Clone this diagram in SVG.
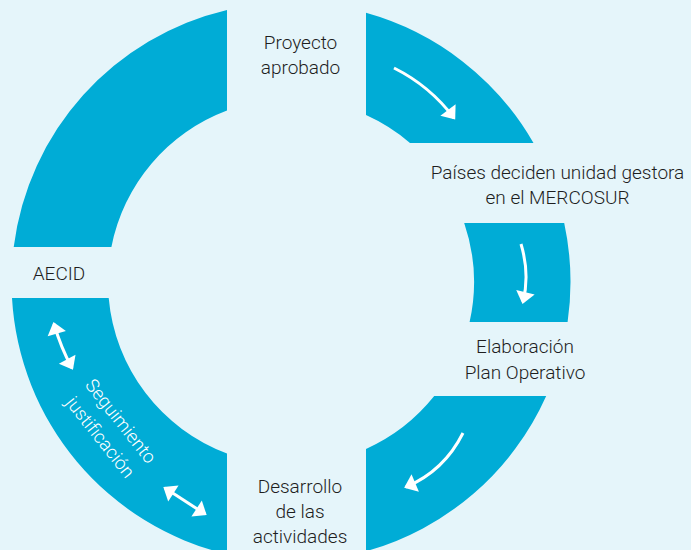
<svg xmlns="http://www.w3.org/2000/svg" width="691" height="550" viewBox="0 0 691 550">
  <style>
    .seg { fill: #00acd6; }
    .lbl { font-family: Roboto, "Liberation Sans", sans-serif; font-weight: 300; font-size: 19px; fill: #1e1e1e; text-anchor: middle; }
    .wlbl { font-family: Roboto, "Liberation Sans", sans-serif; font-weight: 300; font-size: 18.5px; fill: #ffffff; text-anchor: middle; }
    .arr { fill: none; stroke: #ffffff; stroke-width: 3; }
  </style>
  <defs>
    <marker id="head" markerUnits="userSpaceOnUse" markerWidth="30" markerHeight="30" viewBox="-15 -15 30 30" refX="0" refY="0" orient="auto-start-reverse">
      <path d="M2,0 L-10,-9.5 L-10,9.5 Z" fill="#ffffff"/>
    </marker>
  </defs>
  <rect width="691" height="550" fill="#e5f5fa"/>

  <g id="connectors">
    <path class="seg" d="M13.7,247 A279.5,279.5 0 0 1 227,9.9 L227,110.6 A183,183 0 0 0 111.4,247 Z"/>
    <path class="seg" d="M366,12.8 A279.5,279.5 0 0 1 533.5,143 L410,143 A183,183 0 0 0 366,115.1 Z"/>
    <path class="seg" d="M564.2,223 A279.5,279.5 0 0 1 567.6,322 L469.6,322 A183,183 0 0 0 464.2,223 Z"/>
    <path class="seg" d="M546.2,396 A279.5,279.5 0 0 1 366,551.2 L366,448.9 A183,183 0 0 0 434.2,396 Z"/>
    <path class="seg" d="M12,298 A279.5,279.5 0 0 0 227,554.1 L227,453.4 A183,183 0 0 1 108.7,298 Z"/>

    <path class="arr" d="M394,68 Q430,86 454,118" marker-end="url(#head)"/>
    <path class="arr" d="M521,244 Q530,274 523,302" marker-end="url(#head)"/>
    <path class="arr" d="M463,433 Q444,471 406,487" marker-end="url(#head)"/>
    <path class="arr" d="M54,324 Q61,348 72,368" marker-start="url(#head)" marker-end="url(#head)"/>
    <path class="arr" d="M165,488 L205,514" marker-start="url(#head)" marker-end="url(#head)"/>

    <g transform="translate(109.5,430) rotate(51.5)">
      <text class="wlbl" x="0" y="-8">Seguimiento</text>
      <text class="wlbl" x="0" y="18">justificación</text>
    </g>
  </g>

  <g id="node-proyecto">
    <text class="lbl" x="300.5" y="49">Proyecto</text>
    <text class="lbl" x="300.5" y="74">aprobado</text>
  </g>
  <g id="node-paises">
    <text class="lbl" x="557.5" y="179">Países deciden unidad gestora</text>
    <text class="lbl" x="557.5" y="204">en el MERCOSUR</text>
  </g>
  <g id="node-elaboracion">
    <text class="lbl" x="525" y="353">Elaboración</text>
    <text class="lbl" x="525" y="379">Plan Operativo</text>
  </g>
  <g id="node-desarrollo">
    <text class="lbl" x="300" y="493">Desarrollo</text>
    <text class="lbl" x="300" y="518">de las</text>
    <text class="lbl" x="300" y="543">actividades</text>
  </g>
  <g id="node-aecid">
    <text class="lbl" x="59" y="280">AECID</text>
  </g>
</svg>
